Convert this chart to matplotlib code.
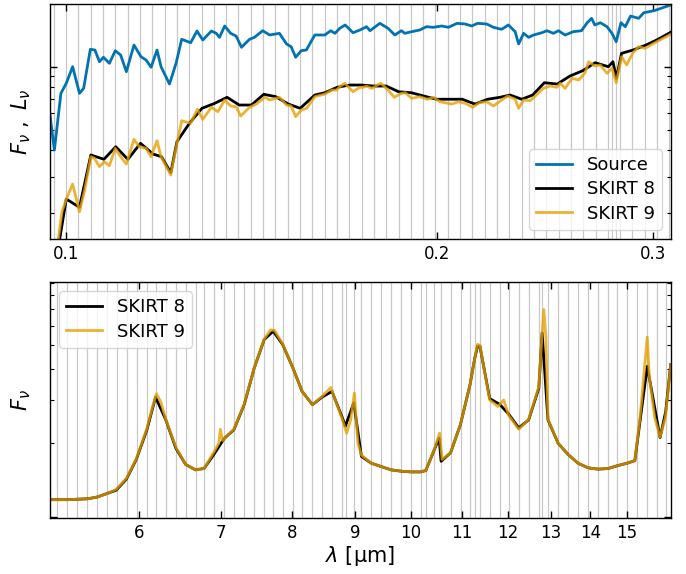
import matplotlib
matplotlib.use("Agg")
import matplotlib.pyplot as plt
from matplotlib.ticker import LogLocator, NullFormatter, FixedLocator, FixedFormatter, NullLocator

# ---------------- UV panel data (wavelength in micron, flux arbitrary units) ----------------
uv_grid = [0.0977, 0.1000, 0.1023, 0.1047, 0.1072, 0.1096, 0.1122, 0.1148, 0.1175, 0.1202,
           0.1230, 0.1259, 0.1288, 0.1318, 0.1349, 0.1380, 0.1413, 0.1445, 0.1479, 0.1514,
           0.1549, 0.1585, 0.1622, 0.1660, 0.1698, 0.1738, 0.1778, 0.1820, 0.1862, 0.1905,
           0.1950, 0.1995, 0.2042, 0.2089, 0.2138, 0.2188, 0.2239, 0.2291, 0.2344, 0.2399,
           0.2455, 0.2512, 0.2570, 0.2630, 0.2692, 0.2754, 0.2775, 0.2797, 0.2818, 0.2884,
           0.2951, 0.3020, 0.3090]

src_wl = [0.0970, 0.0978, 0.0990, 0.1000, 0.1012, 0.1025, 0.1033, 0.1046, 0.1055, 0.1064,
          0.1072, 0.1084, 0.1096, 0.1107, 0.1119, 0.1135, 0.1150, 0.1161, 0.1172, 0.1185,
          0.1194, 0.1213, 0.1228, 0.1241, 0.1262, 0.1277, 0.1291, 0.1312, 0.1324, 0.1332,
          0.1345, 0.1360, 0.1374, 0.1388, 0.1409, 0.1422, 0.1444, 0.1463, 0.1490, 0.1510,
          0.1523, 0.1536, 0.1552, 0.1567, 0.1592, 0.1622, 0.1640, 0.1653, 0.1668, 0.1685,
          0.1710, 0.1732, 0.1754, 0.1765, 0.1798, 0.1826, 0.1849, 0.1872, 0.1884, 0.1908,
          0.1937, 0.1962, 0.1987, 0.2019, 0.2044, 0.2077, 0.2109, 0.2135, 0.2159, 0.2196,
          0.2224, 0.2258, 0.2287, 0.2316, 0.2331, 0.2353, 0.2375, 0.2397, 0.2435, 0.2458,
          0.2488, 0.2511, 0.2543, 0.2582, 0.2622, 0.2650, 0.2672, 0.2688, 0.2716, 0.2750,
          0.2776, 0.2798, 0.2823, 0.2846, 0.2874, 0.2918, 0.2946, 0.3003, 0.3098]
src_flux = [0.589, 0.401, 0.747, 0.834, 1.000, 0.747, 0.789, 1.210, 1.201, 1.056,
            1.109, 1.038, 1.192, 1.137, 0.947, 1.268, 1.116, 1.076, 0.994, 1.201,
            1.000, 0.827, 1.038, 1.351, 1.301, 1.479, 1.340, 1.479, 1.442, 1.380,
            1.563, 1.442, 1.400, 1.237, 1.351, 1.380, 1.484, 1.416, 1.442, 1.283,
            1.245, 1.109, 1.192, 1.201, 1.416, 1.416, 1.484, 1.442, 1.523, 1.580,
            1.452, 1.495, 1.551, 1.484, 1.609, 1.523, 1.416, 1.484, 1.442, 1.468,
            1.495, 1.551, 1.540, 1.563, 1.540, 1.609, 1.597, 1.563, 1.609, 1.597,
            1.540, 1.507, 1.580, 1.468, 1.283, 1.442, 1.380, 1.416, 1.452, 1.484,
            1.442, 1.484, 1.416, 1.468, 1.484, 1.620, 1.700, 1.580, 1.620, 1.551,
            1.442, 1.315, 1.620, 1.551, 1.743, 1.700, 1.807, 1.848, 1.967]

s8_uv_wl = [0.0978, 0.1000, 0.1025, 0.1047, 0.1073, 0.1097, 0.1122, 0.1149, 0.1176, 0.1195,
            0.1216, 0.1230, 0.1259, 0.1289, 0.1320, 0.1351, 0.1382, 0.1414, 0.1447, 0.1480,
            0.1515, 0.1549, 0.1592, 0.1622, 0.1660, 0.1699, 0.1738, 0.1777, 0.1820, 0.1862,
            0.1907, 0.1952, 0.1999, 0.2048, 0.2098, 0.2148, 0.2200, 0.2251, 0.2294, 0.2345,
            0.2393, 0.2446, 0.2506, 0.2566, 0.2628, 0.2690, 0.2757, 0.2781, 0.2799, 0.2826,
            0.2888, 0.2958, 0.3018, 0.3098]
s8_uv_flux = [0.106, 0.2344, 0.2140, 0.3798, 0.3624, 0.416, 0.362, 0.4318, 0.384, 0.3727,
              0.3128, 0.4394, 0.5376, 0.6337, 0.6692, 0.715, 0.657, 0.657, 0.739, 0.720,
              0.664, 0.634, 0.733, 0.752, 0.798, 0.818, 0.818, 0.809, 0.809, 0.760,
              0.752, 0.725, 0.700, 0.700, 0.700, 0.664, 0.700, 0.715, 0.733, 0.700,
              0.733, 0.839, 0.827, 0.903, 0.957, 1.045, 1.000, 1.056, 0.881, 1.158,
              1.201, 1.268, 1.340, 1.458]

s9_uv_wl = [0.0978, 0.0985, 0.0992, 0.1000, 0.1012, 0.1025, 0.1035, 0.1047, 0.1054, 0.1064,
            0.1074, 0.1084, 0.1096, 0.1107, 0.1119, 0.1135, 0.1146, 0.1161, 0.1172, 0.1185,
            0.1194, 0.1216, 0.1230, 0.1241, 0.1262, 0.1278, 0.1291, 0.1312, 0.1328, 0.1345,
            0.1360, 0.1374, 0.1386, 0.1409, 0.1427, 0.1450, 0.1463, 0.1490, 0.1510, 0.1523,
            0.1536, 0.1552, 0.1568, 0.1592, 0.1622, 0.1643, 0.1658, 0.1668, 0.1684, 0.1710,
            0.1732, 0.1743, 0.1754, 0.1771, 0.1801, 0.1826, 0.1847, 0.1872, 0.1886, 0.1908,
            0.1937, 0.1965, 0.1987, 0.2012, 0.2057, 0.2083, 0.2109, 0.2139, 0.2166, 0.2196,
            0.2224, 0.2258, 0.2284, 0.2316, 0.2331, 0.2353, 0.2382, 0.2405, 0.2441, 0.2473,
            0.2504, 0.2520, 0.2543, 0.2576, 0.2608, 0.2640, 0.2657, 0.2688, 0.2716, 0.2750,
            0.2776, 0.2798, 0.2826, 0.2853, 0.2885, 0.2918, 0.2953, 0.3018, 0.3098]
s9_uv_flux = [0.116, 0.1496, 0.2040, 0.2337, 0.2763, 0.2040, 0.2588, 0.3727, 0.3664, 0.3341,
              0.3528, 0.3378, 0.4088, 0.3727, 0.344, 0.4511, 0.416, 0.4088, 0.3727, 0.4443,
              0.3727, 0.3050, 0.4318, 0.5533, 0.5376, 0.6268, 0.5618, 0.6407, 0.6106, 0.694,
              0.650, 0.645, 0.582, 0.641, 0.664, 0.715, 0.694, 0.715, 0.657, 0.650,
              0.578, 0.622, 0.634, 0.720, 0.741, 0.774, 0.774, 0.803, 0.834, 0.760,
              0.798, 0.798, 0.809, 0.789, 0.834, 0.774, 0.715, 0.747, 0.752, 0.707,
              0.720, 0.700, 0.715, 0.681, 0.664, 0.681, 0.669, 0.641, 0.674, 0.681,
              0.650, 0.694, 0.725, 0.700, 0.634, 0.694, 0.689, 0.725, 0.789, 0.809,
              0.798, 0.834, 0.789, 0.881, 0.864, 0.936, 1.056, 1.008, 1.019, 0.930,
              0.983, 0.839, 1.116, 1.019, 1.158, 1.245, 1.223, 1.315, 1.427]

# ---------------- IR panel data ----------------
ir_grid = [5.147, 5.245, 5.344, 5.446, 5.548, 5.654, 5.754, 5.863, 5.974, 6.088,
           6.191, 6.309, 6.428, 6.549, 6.673, 6.778, 6.906, 7.037, 7.171, 7.306,
           7.445, 7.586, 7.715, 7.861, 8.010, 8.152, 8.306, 8.463, 8.624, 8.787,
           8.843, 8.982, 9.106, 9.279, 9.454, 9.634, 9.816, 10.002, 10.180, 10.276,
           10.438, 10.582, 10.770, 10.974, 11.167, 11.266, 11.378, 11.594, 11.813, 12.015,
           12.243, 12.474, 12.711, 12.790, 12.934, 13.179, 13.428, 13.683, 13.942, 14.206,
           14.475, 14.722, 15.001, 15.286, 15.575, 15.870, 16.140]

s8_ir_wl = [5.08, 5.25, 5.45, 5.55, 5.65, 5.75, 5.86, 5.97, 6.09, 6.19,
            6.31, 6.43, 6.55, 6.67, 6.78, 6.91, 7.04, 7.17, 7.31, 7.45,
            7.59, 7.72, 7.86, 8.01, 8.15, 8.31, 8.46, 8.62, 8.79, 8.84,
            8.98, 9.11, 9.28, 9.45, 9.63, 9.82, 10.00, 10.18, 10.28, 10.54,
            10.58, 10.77, 10.97, 11.17, 11.27, 11.33, 11.38, 11.59, 11.81, 12.01,
            12.24, 12.47, 12.71, 12.79, 12.93, 13.18, 13.43, 13.68, 13.94, 14.21,
            14.48, 14.72, 15.00, 15.22, 15.58, 15.96, 16.13, 16.28]
s8_ir_flux = [1.18, 1.18, 1.19, 1.21, 1.25, 1.29, 1.43, 1.72, 2.27, 3.08,
              2.49, 1.91, 1.64, 1.56, 1.58, 1.81, 2.09, 2.27, 2.87, 4.05,
              5.28, 5.71, 5.03, 4.05, 3.25, 2.87, 3.08, 3.25, 2.54, 2.35,
              2.92, 1.77, 1.66, 1.61, 1.56, 1.54, 1.53, 1.53, 1.55, 2.10,
              1.69, 1.83, 2.38, 3.46, 4.44, 4.96, 4.96, 3.04, 2.88, 2.63,
              2.31, 2.49, 3.35, 5.62, 2.49, 2.00, 1.80, 1.66, 1.59, 1.57,
              1.58, 1.62, 1.66, 1.70, 4.11, 2.11, 2.70, 4.17]

s9_ir_wl = [5.08, 5.25, 5.45, 5.55, 5.65, 5.75, 5.86, 5.97, 6.09, 6.16,
            6.20, 6.25, 6.31, 6.43, 6.55, 6.67, 6.78, 6.91, 6.97, 6.99,
            7.02, 7.04, 7.17, 7.31, 7.45, 7.59, 7.68, 7.74, 7.86, 8.01,
            8.15, 8.31, 8.46, 8.60, 8.79, 8.86, 8.93, 8.99, 9.05, 9.11,
            9.28, 9.45, 9.63, 9.82, 10.00, 10.18, 10.28, 10.45, 10.55, 10.60,
            10.77, 10.97, 11.17, 11.27, 11.33, 11.38, 11.59, 11.77, 11.90, 12.01,
            12.24, 12.47, 12.71, 12.79, 12.83, 12.88, 12.93, 13.18, 13.43, 13.68,
            13.94, 14.21, 14.48, 14.72, 15.00, 15.22, 15.37, 15.58, 15.64, 15.80,
            15.96, 16.12, 16.28]
s9_ir_flux = [1.18, 1.18, 1.19, 1.21, 1.25, 1.30, 1.44, 1.73, 2.30, 2.85,
              3.18, 2.95, 2.50, 1.93, 1.64, 1.56, 1.58, 1.85, 2.00, 2.28,
              2.05, 2.09, 2.28, 2.88, 4.05, 5.30, 5.78, 5.75, 5.05, 4.05,
              3.25, 2.87, 3.10, 3.37, 2.50, 2.20, 2.50, 3.20, 2.00, 1.79,
              1.66, 1.61, 1.56, 1.54, 1.53, 1.53, 1.55, 1.90, 2.20, 1.72,
              1.83, 2.38, 3.46, 4.44, 5.05, 5.00, 3.00, 2.82, 3.00, 2.60,
              2.28, 2.50, 3.40, 5.60, 7.00, 5.40, 2.50, 2.00, 1.80, 1.66,
              1.59, 1.57, 1.58, 1.62, 1.66, 1.70, 2.54, 5.40, 3.74, 2.54,
              2.12, 2.55, 4.15]

uv_xticks = [0.1, 0.2, 0.3]
uv_xlabels = ["0.1", "0.2", "0.3"]
ir_xticks = [6, 7, 8, 9, 10, 11, 12, 13, 14, 15]
ir_xlabels = ["6", "7", "8", "9", "10", "11", "12", "13", "14", "15"]

c_src = "#0173b2"
c_s8 = "black"
c_s9 = "#E69F00"
grid_c = "#c8c8c8"

plt.rcParams["font.family"] = ["DejaVu Sans"]
plt.rcParams["mathtext.fontset"] = "dejavusans"

fig = plt.figure(figsize=(6.86, 5.74), dpi=100)
ax1 = fig.add_axes([50/686, 1-239/574, 621/686, 235/574])
ax2 = fig.add_axes([50/686, 1-518/574, 621/686, 236/574])

def style(ax, xt, xl):
    ax.set_xscale("log")
    ax.set_yscale("log")
    ax.xaxis.set_major_locator(FixedLocator(xt))
    ax.xaxis.set_major_formatter(FixedFormatter(xl))
    ax.xaxis.set_minor_locator(NullLocator())
    ax.yaxis.set_major_locator(LogLocator(base=10))
    ax.yaxis.set_minor_locator(LogLocator(base=10, subs=range(2, 10)))
    ax.yaxis.set_major_formatter(NullFormatter())
    ax.yaxis.set_minor_formatter(NullFormatter())
    ax.tick_params(which="both", direction="in", top=True, right=True, labelsize=12)
    ax.tick_params(which="major", length=5, width=1.0, pad=4)
    ax.tick_params(which="minor", length=3, width=0.8)
    for s in ax.spines.values():
        s.set_linewidth(1.0)

lw = 2.0

# Top panel
for w in uv_grid:
    ax1.axvline(w, color=grid_c, lw=0.9, zorder=0)
ax1.plot(src_wl, src_flux, color=c_src, lw=lw, label="Source")
ax1.plot(s8_uv_wl, s8_uv_flux, color=c_s8, lw=lw, label="SKIRT 8")
ax1.plot(s9_uv_wl, s9_uv_flux, color=c_s9, lw=lw, alpha=0.8, label="SKIRT 9")
style(ax1, uv_xticks, uv_xlabels)
ax1.set_xlim(0.0970, 0.3100)
ax1.set_ylim(0.1512, 1.989)
ax1.set_ylabel(r"$F_\nu\ ,\ L_\nu$", fontsize=15, labelpad=8)
ax1.legend(loc="lower right", fontsize=13, handlelength=2.0, labelspacing=0.35,
           borderaxespad=0.5)

# Bottom panel
for w in ir_grid:
    ax2.axvline(w, color=grid_c, lw=0.9, zorder=0)
ax2.plot(s8_ir_wl, s8_ir_flux, color=c_s8, lw=lw, label="SKIRT 8")
ax2.plot(s9_ir_wl, s9_ir_flux, color=c_s9, lw=lw, alpha=0.8, label="SKIRT 9")
style(ax2, ir_xticks, ir_xlabels)
ax2.set_xlim(5.077, 16.29)
ax2.set_ylim(0.994, 9.05)
ax2.set_ylabel(r"$F_\nu$", fontsize=15, labelpad=8)
ax2.set_xlabel(r"$\lambda$ [μm]", fontsize=15, labelpad=2)
ax2.legend(loc="upper left", fontsize=13, handlelength=2.0, labelspacing=0.35,
           borderaxespad=0.5)

fig.savefig("out.png", dpi=100)
